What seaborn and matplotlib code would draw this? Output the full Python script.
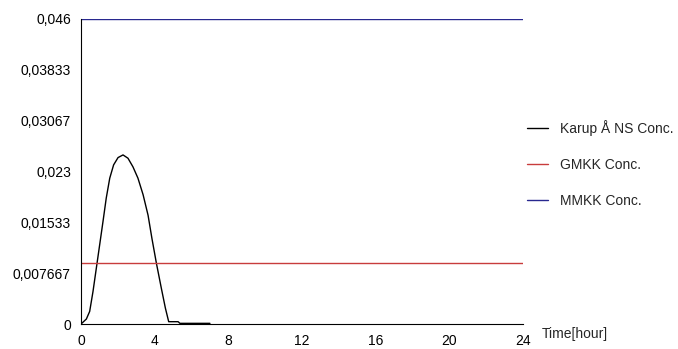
import numpy as np
import pandas as pd
import matplotlib
matplotlib.use('Agg')
import matplotlib.pyplot as plt
import seaborn as sns

# data
time_h = [0, 0.29, 0.47, 0.65, 0.83, 1.01, 1.19, 1.37, 1.56, 1.77, 2.01, 2.28,
          2.55, 2.82, 3.09, 3.37, 3.64, 3.85, 4.09, 4.36, 4.58, 4.76, 5.27,
          5.37, 7.0]
karup_conc = [0, 0.00075, 0.0019, 0.0049, 0.0084, 0.0119, 0.0154, 0.0190,
              0.0220, 0.0240, 0.0251, 0.0255, 0.0250, 0.0237, 0.0220, 0.0195,
              0.0164, 0.0129, 0.0092, 0.0054, 0.0024, 0.00035, 0.00035,
              0.0001, 0.0001]
limit_time = [0, 24]
gmkk_conc = [0.0092, 0.0092]
mmkk_conc = [0.046, 0.046]

y_ticks = [0, 0.007667, 0.01533, 0.023, 0.03067, 0.03833, 0.046]
y_labels = ['0', '0,007667', '0,01533', '0,023', '0,03067', '0,03833', '0,046']
x_ticks = [0, 4, 8, 12, 16, 20, 24]

sns.set_style('white')
plt.rcParams['font.family'] = ['Liberation Sans', 'DejaVu Sans']

fig = plt.figure(figsize=(6.78, 3.49), dpi=100)
ax = fig.add_axes([0.1195, 0.0716, 0.652, 0.874])

sns.lineplot(x=time_h, y=karup_conc, ax=ax, color='black', lw=1, label='Karup Å NS Conc.')
sns.lineplot(x=limit_time, y=gmkk_conc, ax=ax, color='#c83c3c', lw=1, label='GMKK Conc.')
sns.lineplot(x=limit_time, y=mmkk_conc, ax=ax, color='#28288f', lw=1, label='MMKK Conc.')

ax.set_xlim(0, 24)
ax.set_ylim(0, 0.046)
ax.set_xticks(x_ticks)
ax.set_xticklabels([str(t) for t in x_ticks], fontsize=10)
ax.set_yticks(y_ticks)
ax.set_yticklabels(y_labels, fontsize=10)
ax.tick_params(axis='x', direction='inout', length=6, width=0.8, pad=4.5, colors='black')
ax.tick_params(axis='y', direction='out', length=3, width=0.8, pad=4.3, colors='black')
for s in ['top', 'right']:
    ax.spines[s].set_visible(False)
for s in ['left', 'bottom']:
    ax.spines[s].set_color('black')
    ax.spines[s].set_linewidth(0.8)
ax.set_xlabel('')
ax.set_ylabel('')
fig.text(542 / 678, 1 - 327 / 349, 'Time[hour]', fontsize=10, va='top')

leg = ax.legend(loc='center left', bbox_to_anchor=(527 / 678, 1 - 164 / 349),
                bbox_transform=fig.transFigure, frameon=False, fontsize=10,
                handlelength=1.5, handletextpad=0.85, labelspacing=1.6,
                borderpad=0, borderaxespad=0)

fig.savefig('out.png', dpi=100)
